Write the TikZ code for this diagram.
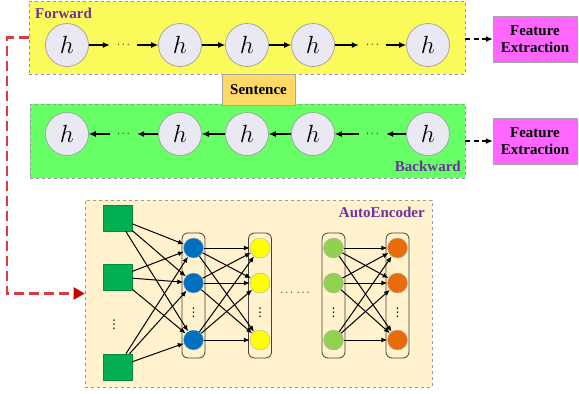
\documentclass[tikz,border=0pt]{standalone}
\usepackage{fontspec}
\setmainfont{Liberation Serif}
\newfontfamily\dvsans{DejaVu Sans}
\usetikzlibrary{arrows.meta}
\definecolor{fwdyellow}{RGB}{250,250,90}
\definecolor{bwdgreen}{RGB}{102,255,102}
\definecolor{femag}{RGB}{255,102,255}
\definecolor{sentcol}{RGB}{255,217,102}
\definecolor{aebg}{RGB}{255,242,204}
\definecolor{labpurple}{RGB}{112,48,160}
\definecolor{hfill}{RGB}{234,232,242}
\definecolor{sqgreen}{RGB}{0,176,80}
\definecolor{cblue}{RGB}{0,112,192}
\definecolor{cyellow}{RGB}{255,255,0}
\definecolor{cgreen}{RGB}{146,208,80}
\definecolor{corange}{RGB}{232,108,10}
\definecolor{reddash}{RGB}{215,60,64}
\definecolor{redhead}{RGB}{200,0,0}
\tikzset{
  bigbox/.style={draw=gray!80, dashed, line width=0.6pt, minimum width=#1, inner sep=0pt},
  hnode/.style={circle, draw=gray!75, line width=0.7pt, fill=hfill, minimum size=43pt, inner sep=0pt, font=\fontsize{27}{27}\selectfont},
  dotsnode/.style={minimum width=27pt, inner sep=0pt, font=\fontsize{11}{11}\selectfont},
  harrow/.style={-{Latex[length=7pt,width=6pt]}, line width=1.2pt},
  lab/.style={font=\fontsize{15}{15}\selectfont\bfseries, text=labpurple, inner sep=0pt},
  febox/.style={draw=gray!70, fill=femag, minimum width=84pt, minimum height=46pt, align=center, inner sep=0pt, font=\fontsize{15}{17}\selectfont\bfseries},
  fearrow/.style={-{Latex[length=7pt,width=6pt]}, dash pattern=on 5pt off 3.5pt, line width=1.2pt},
  sq/.style={draw=sqgreen!80!black, fill=sqgreen, minimum width=29pt, minimum height=26pt, inner sep=0pt},
  neuron/.style={circle, draw=gray!60, fill=#1, minimum size=20pt, inner sep=0pt},
  layer/.style={draw=black!75, rounded corners=6pt, minimum width=23pt, minimum height=125pt, inner sep=0pt, line width=0.8pt},
  conn/.style={-{Latex[length=6pt,width=5pt]}, line width=1pt},
  vdotsnode/.style={inner sep=0pt, font=\dvsans\fontsize{12}{12}\selectfont},
}
\begin{document}
\begin{tikzpicture}[x=1pt,y=-1pt]
\useasboundingbox (0,0) rectangle (579,394);
% big boxes
\node[bigbox=436pt, minimum height=73pt, fill=fwdyellow] (fwd) at (247,37.5) {};
\node[bigbox=435pt, minimum height=74pt, fill=bwdgreen] (bwd) at (247.5,141) {};
\node[bigbox=347pt, minimum height=187pt, fill=aebg] (ae) at (258.5,293.5) {};
\node[draw=gray!70, fill=sentcol, minimum width=73pt, minimum height=31pt, inner sep=0pt, font=\fontsize{15}{15}\selectfont\bfseries] (sent) at (258.5,89.5) {Sentence};
% labels
\node[lab, anchor=west] (lfwd) at (35,13) {Forward};
\node[lab, anchor=east] (lbwd) at (461,166) {Backward};
\node[lab, anchor=east] (lae) at (425,212) {AutoEncoder};
% forward chain
\node[hnode] (f1) at (67,45) {$h$};
\node[dotsnode] (fd1) at (123.5,45) {$\cdots$};
\node[hnode] (f2) at (180,45) {$h$};
\node[hnode] (f3) at (247,45) {$h$};
\node[hnode] (f4) at (313,45) {$h$};
\node[dotsnode] (fd2) at (372.5,45) {$\cdots$};
\node[hnode] (f5) at (428,45) {$h$};
\draw[harrow] (f1) -- (fd1.west);
\draw[harrow] (fd1.east) -- (f2);
\draw[harrow] (f2) -- (f3);
\draw[harrow] (f3) -- (f4);
\draw[harrow] (f4) -- (fd2.west);
\draw[harrow] (fd2.east) -- (f5);
% backward chain
\node[hnode] (b1) at (67,134) {$h$};
\node[dotsnode] (bd1) at (123.5,134) {$\cdots$};
\node[hnode] (b2) at (180,134) {$h$};
\node[hnode] (b3) at (247,134) {$h$};
\node[hnode] (b4) at (313,134) {$h$};
\node[dotsnode] (bd2) at (372.5,134) {$\cdots$};
\node[hnode] (b5) at (428,134) {$h$};
\draw[harrow] (bd1.west) -- (b1);
\draw[harrow] (b2) -- (bd1.east);
\draw[harrow] (b3) -- (b2);
\draw[harrow] (b4) -- (b3);
\draw[harrow] (bd2.west) -- (b4);
\draw[harrow] (b5) -- (bd2.east);
% feature extraction
\node[febox] (fe1) at (535,39) {Feature\\Extraction};
\node[febox] (fe2) at (535,141) {Feature\\Extraction};
\draw[fearrow] (fwd.east |- fe1.west) -- (fe1.west);
\draw[fearrow] (bwd.east |- fe2.west) -- (fe2.west);
% red dashed connector
\coordinate (rc) at (7,37.5);
\draw[reddash, line width=2.2pt, dash pattern=on 10pt off 5pt, -{Triangle[length=11pt,width=12pt,color=redhead]}] (fwd.west) -- (rc) |- (ae.west);
% autoencoder
\node[sq] (s1) at (117.5,218) {};
\node[sq] (s2) at (117.5,277) {};
\node[sq] (s3) at (117.5,367) {};
\node[vdotsnode] (sdots) at (114,325) {⋮};
\foreach \n/\x/\c in {L1/193.5/cblue, L2/260/cyellow, L3/333.5/cgreen, L4/397.5/corange}{
  \node[layer] (\n) at (\x,295.5) {};
  \node[neuron=\c] (\n a) at (\x,248) {};
  \node[neuron=\c] (\n b) at (\x,283) {};
  \node[neuron=\c] (\n c) at (\x,340) {};
  \node[vdotsnode] (\n d) at (\x,313) {⋮};
}
\node[dotsnode] (middots) at (295,293) {$\cdots\,\cdots$};
\foreach \s in {s1,s2,s3}{
  \foreach \t in {L1a,L1b,L1c}{
    \draw[conn] (\s) -- (\t);
  }
}
\foreach \s in {L1a,L1b,L1c}{
  \foreach \t in {L2a,L2b,L2c}{
    \draw[conn] (\s) -- (\t);
  }
}
\foreach \s in {L3a,L3b,L3c}{
  \foreach \t in {L4a,L4b,L4c}{
    \draw[conn] (\s) -- (\t);
  }
}
\end{tikzpicture}
\end{document}
